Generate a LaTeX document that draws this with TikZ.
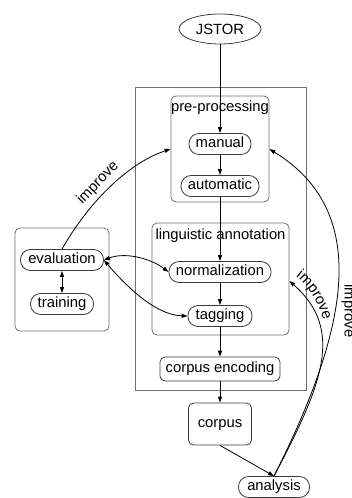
\documentclass[tikz,border=0pt]{standalone}
\usepackage{fontspec}
\setmainfont{Liberation Sans}
\usetikzlibrary{arrows.meta,shapes.geometric,decorations.text}
\definecolor{boxgray}{RGB}{110,110,110}
\definecolor{nodegray}{RGB}{60,60,60}
\begin{document}
\begin{tikzpicture}[x=1pt,y=-1pt,
  every node/.style={font=\fontsize{14.8}{17}\selectfont, inner sep=0pt},
  container/.style={draw=boxgray, line width=0.8pt, rounded corners=5pt},
  outerbox/.style={draw=boxgray, line width=0.8pt},
  pill/.style={draw=nodegray, line width=0.8pt, rounded corners=10pt, minimum height=21pt, text height=10.6pt, text depth=3.1pt},
  boxnode/.style={draw=nodegray, line width=0.8pt, rounded corners=5pt, text height=10.6pt, text depth=3.1pt},
  arr/.style={-{Triangle[length=6pt,width=4pt]}, line width=0.8pt},
  darr/.style={{Triangle[length=6pt,width=4pt]}-{Triangle[length=6pt,width=4pt]}, line width=0.8pt},
  lbl/.style={text height=10.6pt, text depth=3.1pt},
  pathlabel/.style={decorate, decoration={text along path, text align=center,
    text={|\fontsize{14.8}{17}\selectfont|improve}}}
]
\useasboundingbox (0,0) rectangle (351,498);
% containers
\node[outerbox, minimum width=171pt, minimum height=303pt] (outer) at (220.5,238.5) {};
\node[container, minimum width=98pt, minimum height=106pt] (pre) at (220,149) {};
\node[lbl] (prelabel) at (220,108) {pre-processing};
\node[container, minimum width=137pt, minimum height=112pt] (ling) at (220.5,279) {};
\node[lbl] (linglabel) at (220.5,236) {linguistic annotation};
\node[container, minimum width=94pt, minimum height=103pt] (evalbox) at (62,279.5) {};
% nodes
\node[draw=nodegray, line width=0.8pt, ellipse, minimum width=82pt, minimum height=30pt] (jstor) at (220,29) {JSTOR};
\node[pill, minimum width=62pt] (manual) at (220,144) {manual};
\node[pill, minimum width=78pt] (automatic) at (220,186) {automatic};
\node[pill, minimum width=102pt] (norm) at (220,272) {normalization};
\node[pill, minimum width=64pt] (tagging) at (220,316) {tagging};
\node[boxnode, minimum width=120pt, minimum height=24pt] (enc) at (220,369) {corpus encoding};
\node[boxnode, minimum width=63pt, minimum height=42pt] (corpus) at (220,424) {corpus};
\node[pill, minimum width=71pt] (analysis) at (274,487) {analysis};
\node[pill, minimum width=83pt] (evaluation) at (62,260) {evaluation};
\node[pill, minimum width=63pt] (training) at (62,304) {training};
% straight edges
\draw[arr] (jstor) -- (manual);
\draw[arr] (manual) -- (automatic);
\draw[arr] (automatic) -- (norm);
\draw[arr] (norm) -- (tagging);
\draw[arr] (tagging) -- (enc);
\draw[arr] (enc) -- (corpus);
\draw[arr] (corpus.south) -- (analysis.north);
\draw[darr] (evaluation) -- (training);
% curved edges
\draw[darr] (evaluation.east) .. controls (125,252) and (150,258) .. (norm.west);
\draw[darr] (evaluation.east) .. controls (125,285) and (155,315) .. (tagging.west);
\draw[arr] (evaluation.north) .. controls (87,205) and (126,164) .. (pre.west);
\draw[arr] (analysis.north) .. controls (345,335) and (375,214) .. (pre.east);
\draw[arr] (analysis.north) .. controls (322,385) and (345,330) .. ([yshift=-2pt]ling.east);
% labels
\node[lbl, rotate=46] (imp1) at (98,183) {improve};
\path[pathlabel] (292,274) .. controls (305,283) and (316,295) .. (325,325);
\node[lbl, rotate=-90] (imp3) at (348.3,311) {improve};
\end{tikzpicture}
\end{document}
